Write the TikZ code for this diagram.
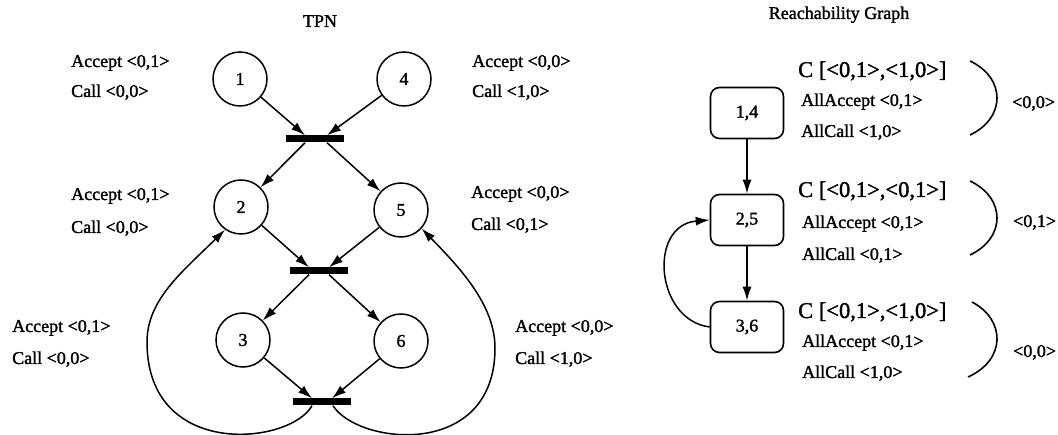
\documentclass[tikz,border=0pt]{standalone}
\usepackage{fontspec}
\setmainfont{Liberation Serif}[FakeBold=1.6]
\usetikzlibrary{arrows.meta}
\begin{document}
\begin{tikzpicture}[x=1pt,y=-1pt,
  place/.style={circle,draw,line width=1.5pt,minimum size=54pt,inner sep=0pt,
    font=\fontsize{18}{20}\selectfont},
  bar/.style={rectangle,fill=black,minimum width=58pt,minimum height=7pt,inner sep=0pt},
  state/.style={rectangle,rounded corners=9pt,draw,line width=1.6pt,
    minimum width=73pt,minimum height=51pt,inner sep=0pt,font=\fontsize{18}{20}\selectfont},
  arc/.style={line width=1.5pt,-{Latex[length=14pt,width=9pt]}},
  lbl/.style={anchor=base west,inner sep=0pt,font=\fontsize{18}{20}\selectfont},
  big/.style={anchor=base west,inner sep=0pt,font=\fontsize{22.5}{25}\selectfont},
  title/.style={anchor=base,inner sep=0pt,font=\fontsize{18}{20}\selectfont},
  brace/.style={line width=1.6pt}]
\useasboundingbox (0,0) rectangle (1058,435);

% ---------------- Time Petri net ----------------
\node[title] (tpn) at (320,27) {TPN};

\node[place] (p1) at (240,79) {1};
\node[place] (p4) at (404,79) {4};
\node[place] (p2) at (241,207) {2};
\node[place] (p5) at (401,210) {5};
\node[place] (p3) at (243,340) {3};
\node[place] (p6) at (401,341) {6};

\node[bar] (t1) at (315,139) {};
\node[bar] (t2) at (319,271) {};
\node[bar] (t3) at (322,402) {};

\draw[arc] (p1) -- ([xshift=-10pt]t1.north);
\draw[arc] (p4) -- ([xshift=12pt]t1.north);
\draw[arc] ([xshift=-10pt]t1.south) -- (p2);
\draw[arc] ([xshift=12pt]t1.south) -- (p5);
\draw[arc] (p2) -- ([xshift=-10pt]t2.north);
\draw[arc] (p5) -- ([xshift=10pt]t2.north);
\draw[arc] ([xshift=-10pt]t2.south) -- (p3);
\draw[arc] ([xshift=10pt]t2.south) -- (p6);
\draw[arc] (p3) -- ([xshift=-10pt]t3.north);
\draw[arc] (p6) -- ([xshift=10pt]t3.north);

% feedback arcs from the last transition
\coordinate (lw) at (147,342);
\coordinate (rw) at (495,348);
\draw[arc] ([xshift=-10pt]t3.south) .. controls (290,445) and (147,460) .. (lw)
  .. controls (147,300) and (182,272) .. (p2.235);
\draw[arc] ([xshift=11pt]t3.south) .. controls (358,445) and (495,460) .. (rw)
  .. controls (495,305) and (460,268) .. (p5.318);

% markings
\node[lbl] at (71,67)  {Accept <0,1>};
\node[lbl] at (71,97)  {Call <0,0>};
\node[lbl] at (472,67) {Accept <0,0>};
\node[lbl] at (472,97) {Call <1,0>};
\node[lbl] at (71,200)  {Accept <0,1>};
\node[lbl] at (71,233)  {Call <0,0>};
\node[lbl] at (471,198) {Accept <0,0>};
\node[lbl] at (471,230) {Call <0,1>};
\node[lbl] at (12,332)  {Accept <0,1>};
\node[lbl] at (12,364)  {Call <0,0>};
\node[lbl] at (515,332) {Accept <0,0>};
\node[lbl] at (515,364) {Call <1,0>};

% ---------------- Reachability graph ----------------
\node[title] (rg) at (839,19) {Reachability Graph};

\node[state] (s14) at (747,113) {1,4};
\node[state] (s25) at (747,220) {2,5};
\node[state] (s36) at (747,327) {3,6};

\draw[arc] (s14) -- (s25);
\draw[arc] (s25) -- (s36);
\draw[arc] (s36.west) .. controls (655,320) and (648,225) .. (s25.west);

\node[big] at (798,77)  {C [<0,1>,<1,0>]};
\node[lbl] at (801,106) {AllAccept <0,1>};
\node[lbl] at (801,137) {AllCall <1,0>};
\node[big] at (798,197) {C [<0,1>,<0,1>]};
\node[lbl] at (802,228) {AllAccept <0,1>};
\node[lbl] at (802,260) {AllCall <0,1>};
\node[big] at (798,318) {C [<0,1>,<1,0>]};
\node[lbl] at (802,347) {AllAccept <0,1>};
\node[lbl] at (802,378) {AllCall <1,0>};

\draw[brace] (970,61) .. controls (1006,78) and (1006,118) .. (970,135);
\draw[brace] (970,181) .. controls (1006,198) and (1006,238) .. (970,255);
\draw[brace] (972,302) .. controls (1006,320) and (1006,360) .. (968,377);

\node[lbl] at (1012,108) {<0,0>};
\node[lbl] at (1013,227) {<0,1>};
\node[lbl] at (1013,357) {<0,0>};
\end{tikzpicture}
\end{document}
